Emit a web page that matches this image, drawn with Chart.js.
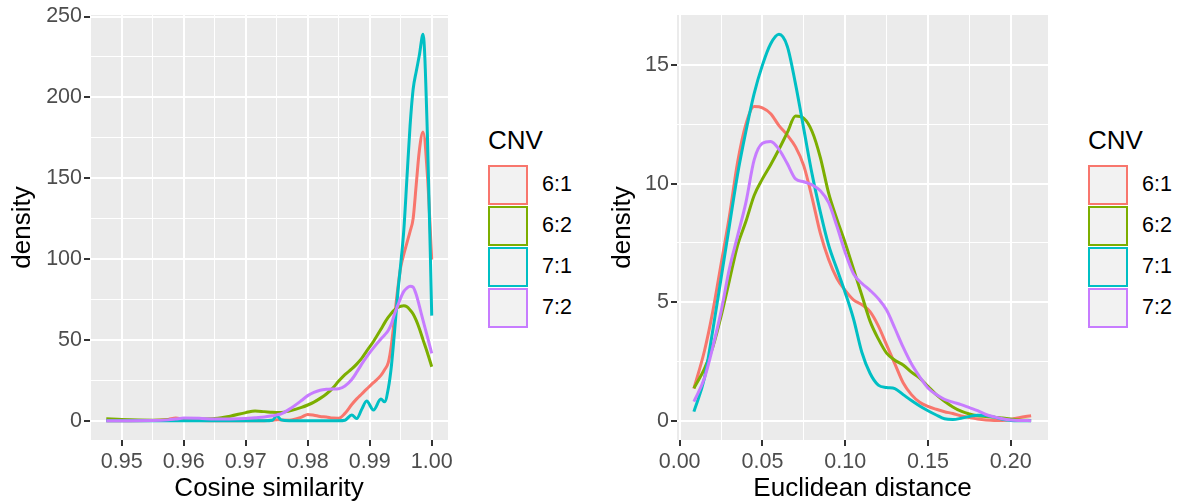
<!DOCTYPE html>
<html>
<head>
<meta charset="utf-8">
<script src="https://cdn.jsdelivr.net/npm/chart.js@4.4.1/dist/chart.umd.min.js"></script>
<style>
  body { margin: 0; background: #fff; width: 1182px; height: 504px; position: relative; overflow: hidden;
         font-family: "Liberation Sans", Arial, sans-serif; }
  .panel { position: absolute; top: 0; width: 460px; height: 504px; }
  .legend { position: absolute; top: 0; width: 100px; height: 504px; }
  .legend .title { position: absolute; left: 0; top: 125px; font-size: 26px; line-height: 30px; color: #000; }
  .legend .keys { position: absolute; left: 0; top: 164px; }
  .key { display: flex; align-items: center; height: 41px; }
  .box { width: 40px; height: 40px; box-sizing: border-box; border: 2.5px solid; background: #F2F2F2;
         outline: 1px solid #fff; }
  .key span { margin-left: 14px; font-size: 21.5px; color: #000; }
</style>
</head>
<body>
<div class="panel" style="left:0px"><canvas id="cosChart"></canvas></div>
<div class="legend" style="left:488px" id="legendLeft"></div>
<div class="panel" style="left:600px"><canvas id="eucChart"></canvas></div>
<div class="legend" style="left:1088px" id="legendRight"></div>
<script>
// groups and colours
const cnvLabels = ['6:1', '6:2', '7:1', '7:2'];
const cnvColors = ['#F8766D', '#7CAE00', '#00BFC4', '#C77CFF'];

// left panel: cosine similarity
const cosX = [0.9475, 0.950, 0.955, 0.9575, 0.9587, 0.960, 0.9625, 0.965, 0.9675, 0.970,
  0.9715, 0.973, 0.9743, 0.975, 0.9757, 0.977, 0.979, 0.980, 0.981, 0.982,
  0.983, 0.984, 0.985, 0.986, 0.9871, 0.9879, 0.9887, 0.9895, 0.9906, 0.9918,
  0.9924, 0.993, 0.9935, 0.994, 0.9945, 0.995, 0.9955, 0.996, 0.9965, 0.997,
  0.9975, 0.998, 0.9986, 0.9993, 1.000];
const cos61 = [0, 0, 0.1, 0.8, 1.6, 0.8, 0.1, 0, 0, 0,
  0, 0, 0.3, 0.6, 0.4, 0.3, 2.2, 3.9, 3.4, 2.6,
  2.3, 1.6, 1.5, 4.5, 10, 13.5, 16.5, 19.5, 23.5, 28,
  31.5, 36, 47, 64, 81, 95, 103, 110, 117, 125,
  146, 167, 178.6, 152, 99.7];
const cos62 = [1.2, 0.7, 0.3, 0.5, 0.7, 0.9, 1.0, 1.3, 2.8, 5.0,
  6.0, 5.6, 5.2, 5.1, 5.1, 6.0, 8.2, 9.7, 11.5, 13.8,
  16.5, 20, 24.5, 28.5, 32, 35, 38.5, 43, 49, 56.5,
  60.5, 64, 66.5, 68.5, 70, 70.8, 71.1, 70.5, 68.5, 66,
  62, 57, 50, 42, 33.4];
const cos71 = [0, 0, 0, 0, 0, 0, 0, 0, 0, 0,
  0, 0, 0.3, 3, 0.5, 0, 0, 0, 0, 0,
  0, 0, 0, 0.3, 3.5, 1.3, 7, 12.2, 6.6, 13.4,
  11.7, 20, 34, 55, 78, 97, 118, 150, 182, 205,
  216, 226, 239, 177, 65];
const cos72 = [0, 0, 0.1, 0.5, 1.0, 1.6, 1.5, 1.0, 1.0, 1.3,
  1.8, 2.3, 3.0, 3.6, 4.2, 7.0, 12.5, 15.5, 17.5, 18.8,
  19.4, 19.6, 19.8, 21.5, 25.5, 30, 35, 39.5, 45, 50.5,
  53, 56, 60, 66, 71, 76, 80, 82, 83.2, 82.6,
  78, 71, 62, 52, 41.6];
const cosXTicks = [0.95, 0.96, 0.97, 0.98, 0.99, 1.00];
const cosXTickLabels = ['0.95', '0.96', '0.97', '0.98', '0.99', '1.00'];
const cosYTicks = [0, 50, 100, 150, 200, 250];
const cosYTickLabels = ['0', '50', '100', '150', '200', '250'];

// right panel: euclidean distance
const eucX = [0.0086, 0.015, 0.02, 0.025, 0.03, 0.035, 0.04, 0.045, 0.05, 0.055,
  0.06, 0.065, 0.07, 0.075, 0.08, 0.085, 0.09, 0.095, 0.10, 0.105,
  0.11, 0.115, 0.12, 0.125, 0.13, 0.135, 0.14, 0.145, 0.15, 0.155,
  0.16, 0.165, 0.17, 0.175, 0.18, 0.185, 0.19, 0.195, 0.20, 0.205, 0.2123];
const euc61 = [1.35, 2.95, 4.6, 6.6, 8.6, 10.9, 12.5, 13.25, 13.2, 12.95,
  12.45, 12.05, 11.55, 10.75, 9.4, 7.9, 6.8, 6.0, 5.5, 5.1,
  4.9, 4.6, 4.0, 3.2, 2.4, 1.6, 1.1, 0.78, 0.6, 0.48,
  0.38, 0.3, 0.2, 0.13, 0.07, 0.03, 0.01, 0.01, 0.05, 0.13, 0.21];
const euc62 = [1.37, 2.2, 3.1, 4.4, 5.9, 7.4, 8.4, 9.5, 10.2, 10.8,
  11.45, 12.15, 12.85, 12.75, 12.2, 11.1, 9.6, 8.5, 7.5, 6.4,
  5.3, 4.2, 3.45, 2.85, 2.55, 2.35, 2.05, 1.8, 1.45, 1.1,
  0.82, 0.58, 0.4, 0.28, 0.21, 0.18, 0.15, 0.11, 0.07, 0.03, 0.01];
const euc71 = [0.38, 1.8, 3.8, 6.0, 8.2, 10.4, 12.2, 13.8, 15.0, 15.9,
  16.3, 15.8, 14.2, 12.3, 10.4, 8.8, 7.4, 6.4, 5.4, 4.3,
  2.9, 2.0, 1.5, 1.4, 1.35, 1.1, 0.85, 0.62, 0.42, 0.24,
  0.08, 0.05, 0.1, 0.18, 0.23, 0.22, 0.15, 0.06, 0.01, 0, 0];
const euc72 = [0.8, 1.8, 3.1, 4.6, 6.4, 7.8, 9.2, 11.0, 11.7, 11.78,
  11.45, 10.85, 10.2, 10.08, 9.95, 9.7, 9.2, 8.2, 7.1, 6.2,
  5.8, 5.5, 5.15, 4.67, 3.9, 3.1, 2.4, 1.85, 1.38, 1.1,
  0.9, 0.78, 0.68, 0.55, 0.42, 0.26, 0.16, 0.08, 0.03, 0.01, 0];
const eucXTicks = [0, 0.05, 0.10, 0.15, 0.20];
const eucXTickLabels = ['0.00', '0.05', '0.10', '0.15', '0.20'];
const eucYTicks = [0, 5, 10, 15];
const eucYTickLabels = ['0', '5', '10', '15'];

Chart.defaults.font.family = '"Liberation Sans", Arial, sans-serif';

// grey panel like ggplot
const panelBg = {
  id: 'panelBg',
  beforeDraw(chart) {
    const { ctx, chartArea: a } = chart;
    ctx.save();
    ctx.fillStyle = '#EBEBEB';
    ctx.fillRect(a.left, a.top, a.right - a.left, a.bottom - a.top);
    ctx.restore();
  }
};

// majors plus the minor lines half way between them
function withMinors(majors, min, max) {
  const step = majors[1] - majors[0];
  const all = majors.slice();
  for (let i = -1; i < majors.length; i++) {
    const v = majors[0] + (i + 0.5) * step;
    if (v > min && v < max) all.push(v);
  }
  return all.sort((a, b) => a - b);
}

function majorIndex(v, majors) {
  return majors.findIndex(m => Math.abs(m - v) < 1e-9);
}

function axis(opts) {
  const all = withMinors(opts.majors, opts.min, opts.max);
  const horiz = opts.horiz;
  return {
    type: 'linear',
    min: opts.min,
    max: opts.max,
    afterBuildTicks: s => { s.ticks = all.map(v => ({ value: v })); },
    afterFit: s => {
      if (horiz) { s.height = opts.size; s.paddingLeft = 0; s.paddingRight = 0; }
      else { s.width = opts.size; s.paddingTop = 0; s.paddingBottom = 0; }
    },
    border: { display: false },
    grid: {
      color: '#FFFFFF',
      lineWidth: c => majorIndex(c.tick.value, opts.majors) >= 0 ? 2 : 1,
      tickColor: c => majorIndex(c.tick.value, opts.majors) >= 0 ? '#333333' : 'rgba(0,0,0,0)',
      tickLength: 6,
      tickWidth: 2
    },
    ticks: {
      autoSkip: false,
      maxRotation: 0,
      color: '#4D4D4D',
      font: { size: 21.5 },
      padding: horiz ? 3 : 2,
      callback: v => {
        const k = majorIndex(v, opts.majors);
        return k >= 0 ? opts.labels[k] : '';
      }
    },
    title: {
      display: true,
      text: opts.title,
      color: '#000000',
      font: { size: 26 },
      padding: horiz ? { top: 0, bottom: 0 } : { top: 7, bottom: 0 }
    }
  };
}

function drawPanel(id, xs, series, xOpts, yOpts) {
  const datasets = series.map((ys, i) => ({
    label: cnvLabels[i],
    data: ys.map((y, j) => ({ x: xs[j], y: y })),
    borderColor: cnvColors[i],
    borderWidth: 3,
    pointRadius: 0,
    fill: false,
    cubicInterpolationMode: 'monotone',
    order: series.length - i
  }));
  return new Chart(document.getElementById(id), {
    type: 'line',
    data: { datasets },
    options: {
      responsive: true,
      maintainAspectRatio: false,
      animation: false,
      layout: { padding: { top: 15, right: 12, left: 0, bottom: 0 } },
      plugins: { legend: { display: false }, tooltip: { enabled: false } },
      scales: { x: axis(xOpts), y: axis(yOpts) }
    },
    plugins: [panelBg]
  });
}

drawPanel('cosChart', cosX, [cos61, cos62, cos71, cos72],
  { horiz: true, min: 0.944875, max: 1.002625, majors: cosXTicks, labels: cosXTickLabels,
    title: 'Cosine similarity', size: 64 },
  { horiz: false, min: -11.95, max: 250.95, majors: cosYTicks, labels: cosYTickLabels,
    title: 'density', size: 90 });

drawPanel('eucChart', eucX, [euc61, euc62, euc71, euc72],
  { horiz: true, min: -0.0016, max: 0.2225, majors: eucXTicks, labels: eucXTickLabels,
    title: 'Euclidean distance', size: 64 },
  { horiz: false, min: -0.815, max: 17.115, majors: eucYTicks, labels: eucYTickLabels,
    title: 'density', size: 77 });

// ggplot style legends
function buildLegend(id) {
  const el = document.getElementById(id);
  const title = document.createElement('div');
  title.className = 'title';
  title.textContent = 'CNV';
  el.appendChild(title);
  const keys = document.createElement('div');
  keys.className = 'keys';
  cnvLabels.forEach((lab, i) => {
    const row = document.createElement('div');
    row.className = 'key';
    const box = document.createElement('div');
    box.className = 'box';
    box.style.borderColor = cnvColors[i];
    const txt = document.createElement('span');
    txt.textContent = lab;
    row.appendChild(box);
    row.appendChild(txt);
    keys.appendChild(row);
  });
  el.appendChild(keys);
}
buildLegend('legendLeft');
buildLegend('legendRight');
</script>
</body>
</html>
